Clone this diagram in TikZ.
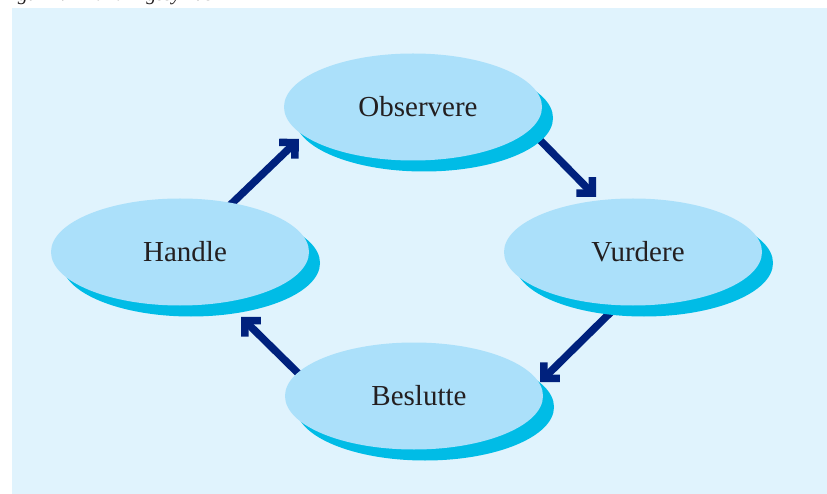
\documentclass[tikz,border=0pt]{standalone}
\usepackage{fontspec}
\setmainfont{Liberation Serif}
\usetikzlibrary{arrows.meta,shadows,shapes.geometric}
\definecolor{panelblue}{HTML}{E0F3FD}
\definecolor{bubble}{HTML}{ABE0FA}
\definecolor{bubbleshadow}{HTML}{00BCE6}
\definecolor{navy}{HTML}{00217D}
\definecolor{ink}{HTML}{231F20}
\pgfdeclarelayer{panel}
\pgfdeclarelayer{links}
\pgfsetlayers{panel,links,main}
\tikzset{
  stage/.style={ellipse, fill=bubble, inner sep=0pt,
    minimum width=258pt, minimum height=107pt,
    drop shadow={shadow xshift=11pt, shadow yshift=-11pt,
      fill=bubbleshadow, opacity=1}},
  stagetext/.style={text=ink, font=\fontsize{29}{32}\selectfont, inner sep=0pt},
  cyclearrow/.style={draw=navy, line width=7.5pt,
    -{Straight Barb[angle=90:16pt, line width=0pt 1, sharp]}}
}
\begin{document}
\begin{tikzpicture}[x=1pt, y=-1pt]
\useasboundingbox (0,0) rectangle (827,494);

% caption above the panel, clipped by the page edge
\begin{scope}
  \clip (0,0) rectangle (827,8);
  \node[anchor=base west, inner sep=0pt, text=ink,
        font=\fontsize{20}{22}\selectfont\itshape] (caption) at (0,1)
        {Figur 4.1 Handlingssyklus};
\end{scope}

% the four stages of the cycle
\node[stage] (obs) at (413,107) {};
\node[stage] (hand) at (180,252) {};
\node[stage] (vurd) at (633,252) {};
\node[stage] (besl) at (414,396) {};

\node[stagetext] (tobs)  at ([xshift=5pt]obs.center)  {Observere};
\node[stagetext] (thand) at ([xshift=5pt]hand.center) {Handle};
\node[stagetext] (tvurd) at ([xshift=5pt]vurd.center) {Vurdere};
\node[stagetext] (tbesl) at ([xshift=5pt]besl.center) {Beslutte};

% arrow ends; the tails start underneath the ellipses
\coordinate (a1s) at (225,210);
\coordinate (a1e) at (299,139);
\coordinate (a2s) at (535,135);
\coordinate (a2e) at (596,197);
\coordinate (a3s) at (612,311);
\coordinate (a3e) at (540,382);
\coordinate (a4s) at (304,379);
\coordinate (a4e) at (241,317);

\begin{pgfonlayer}{links}
  \draw[cyclearrow] (a1s) -- (a1e);
  \draw[cyclearrow] (a2s) -- (a2e);
  \draw[cyclearrow] (a3s) -- (a3e);
  \draw[cyclearrow] (a4s) -- (a4e);
\end{pgfonlayer}

\begin{pgfonlayer}{panel}
  \fill[panelblue] (12,8) rectangle (827,494);
\end{pgfonlayer}
\end{tikzpicture}
\end{document}
